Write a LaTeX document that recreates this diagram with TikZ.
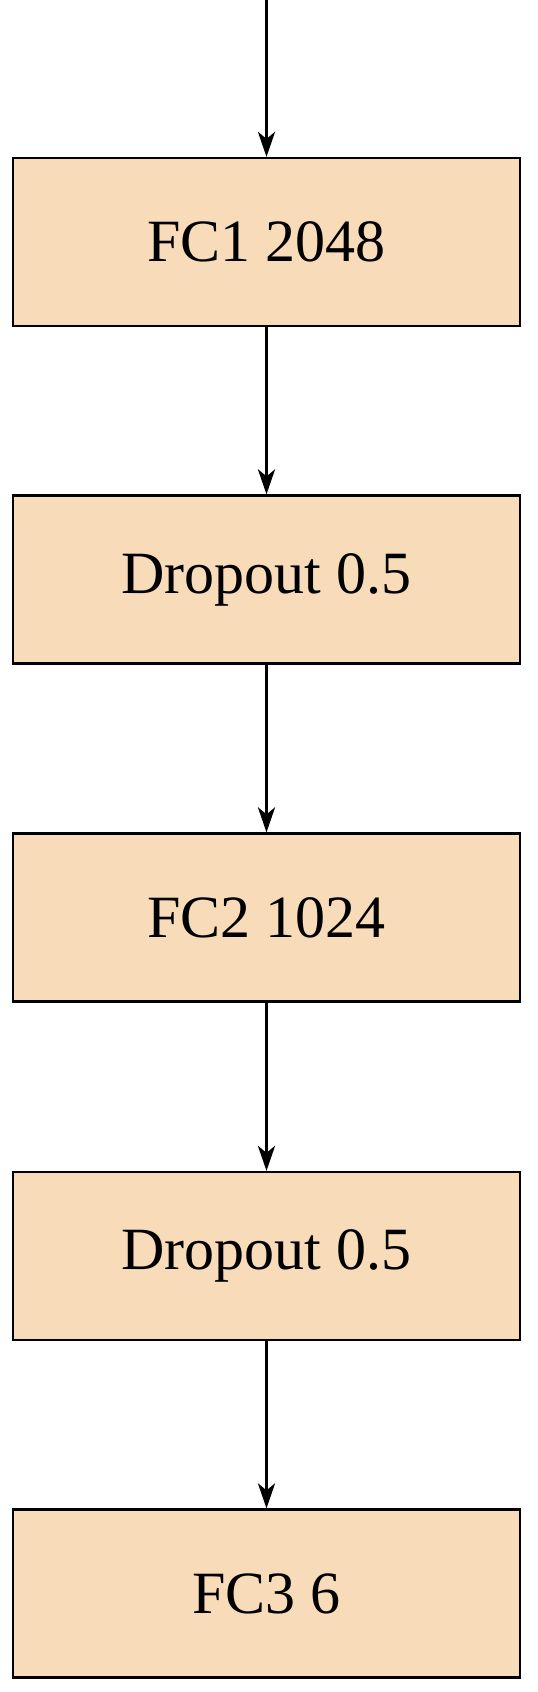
\documentclass[tikz,border=0pt]{standalone}
\usepackage{fontspec}
\setmainfont{Liberation Serif}
\usetikzlibrary{arrows.meta}
\definecolor{boxfill}{HTML}{F8DCB9}
\tikzset{
  layerbox/.style={draw=black, line width=2.2pt, fill=boxfill, minimum width=507pt, minimum height=168pt, inner sep=0pt, font=\fontsize{60}{63}\selectfont},
  conn/.style={line width=3.5pt, -{Stealth[length=25pt,width=17pt,inset=7pt]}}
}
\begin{document}
\begin{tikzpicture}[x=1pt,y=1pt]
\useasboundingbox (0,0) rectangle (538,-1692);
\coordinate (top) at (266.5,0);
\node[layerbox] (fc1) at (266.5,-242) {FC1 2048};
\node[layerbox] (d1) at (266.5,-579.5) {Dropout 0.5};
\node[layerbox] (fc2) at (266.5,-917.5) {FC2 1024};
\node[layerbox] (d2) at (266.5,-1256) {Dropout 0.5};
\node[layerbox] (fc3) at (266.5,-1593.5) {FC3 6};
\draw[conn] (top) -- (fc1.north);
\draw[conn] (fc1.south) -- (d1.north);
\draw[conn] (d1.south) -- (fc2.north);
\draw[conn] (fc2.south) -- (d2.north);
\draw[conn] (d2.south) -- (fc3.north);
\end{tikzpicture}
\end{document}
